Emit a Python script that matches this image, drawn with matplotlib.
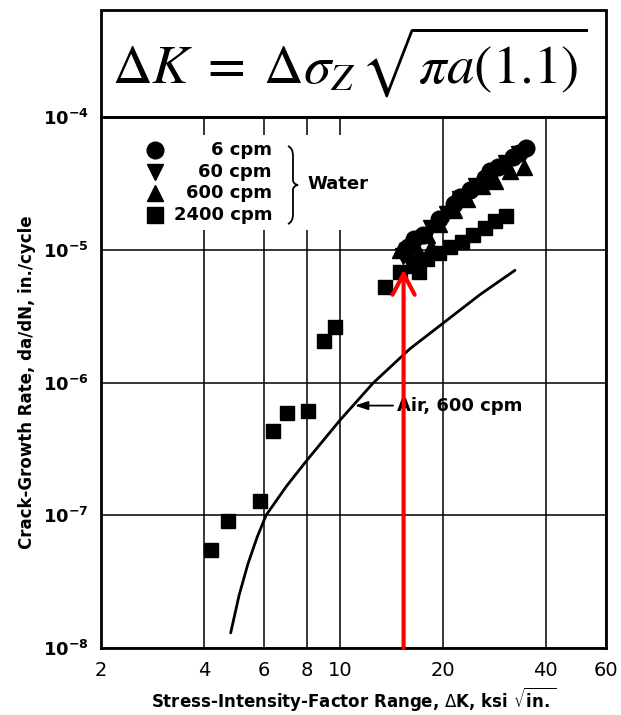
import matplotlib
matplotlib.use("Agg")
import matplotlib.pyplot as plt
from matplotlib.patches import Rectangle, PathPatch
from matplotlib.path import Path

# stress-intensity range (ksi sqrt(in)) vs crack-growth rate (in./cycle)
dk_6cpm = [15.8, 16.5, 17.5, 19.5, 21.5, 22.5, 24, 26.5, 27.5, 29, 32, 33.5, 35]
rate_6cpm = [1.05e-5, 1.2e-5, 1.3e-5, 1.7e-5, 2.2e-5, 2.5e-5, 2.8e-5, 3.5e-5, 3.9e-5,
             4.2e-5, 5.0e-5, 5.4e-5, 5.8e-5]

dk_60cpm = [15.3, 16, 16.8, 18.5, 20.5, 22.5, 25, 27.5, 30.5, 33.5]
rate_60cpm = [9e-6, 8e-6, 1.15e-5, 1.45e-5, 1.85e-5, 2.4e-5, 3.0e-5, 3.6e-5, 4.5e-5, 5.3e-5]

dk_600cpm = [15, 16.3, 17, 18, 18.5, 19.5, 21.5, 23.5, 26, 28.5, 31.5, 34.5]
rate_600cpm = [1.0e-5, 1.1e-5, 9.5e-6, 1.3e-5, 1.05e-5, 1.55e-5, 2.0e-5, 2.4e-5, 3.0e-5,
               3.3e-5, 3.9e-5, 4.2e-5]

dk_2400cpm = [4.19, 4.69, 5.85, 6.38, 7.0, 8.09, 8.98, 9.7, 13.5, 15.0, 16.5, 17.0,
              18, 19.5, 21, 22.8, 24.5, 26.5, 28.5, 30.5]
rate_2400cpm = [5.5e-8, 9e-8, 1.27e-7, 4.3e-7, 5.9e-7, 6.1e-7, 2.04e-6, 2.6e-6, 5.2e-6, 6.8e-6,
                7.5e-6, 6.8e-6, 8.5e-6, 9.5e-6, 1.05e-5, 1.15e-5, 1.3e-5, 1.45e-5, 1.65e-5, 1.8e-5]

# air, 600 cpm curve
dk_air = [4.79, 5.07, 5.38, 5.72, 6.08, 6.98, 8.01, 10, 12.5, 16, 20.6, 25.7, 32.5]
rate_air = [1.3e-8, 2.5e-8, 4.3e-8, 6.8e-8, 1e-7, 1.66e-7, 2.6e-7, 5.2e-7, 9.9e-7, 1.79e-6,
            2.96e-6, 4.6e-6, 7.0e-6]

# red marker at the threshold
dk_red = 15.35
rate_red = 7.1e-6

x_ticks = [2, 4, 6, 8, 10, 20, 40, 60]
x_tick_labels = ["2", "4", "6", "8", "10", "20", "40", "60"]
y_ticks = [1e-8, 1e-7, 1e-6, 1e-5, 1e-4]
y_tick_labels = [r"$\mathbf{10^{-8}}$", r"$\mathbf{10^{-7}}$", r"$\mathbf{10^{-6}}$",
                 r"$\mathbf{10^{-5}}$", r"$\mathbf{10^{-4}}$"]
legend_labels = ["6 cpm", "60 cpm", "600 cpm", "2400 cpm"]
legend_markers = ["o", "v", "^", "s"]

plt.rcParams["font.family"] = ["DejaVu Sans"]
plt.rcParams["mathtext.fontset"] = "dejavusans"

W, H = 621, 715
fig = plt.figure(figsize=(W / 100, H / 100), dpi=100)
L, R, T, B = 101, 606, 117, 648
ax = fig.add_axes([L / W, 1 - B / H, (R - L) / W, (B - T) / H])

def ax_frac(px, py):
    # pixel position in the picture -> axes fraction (for legend decorations)
    return (px - L) / (R - L), (B - py) / (B - T)

ax.set_xscale("log")
ax.set_yscale("log")
ax.set_xlim(2, 60)
ax.set_ylim(1e-8, 1e-4)
ax.set_xticks(x_ticks)
ax.set_xticklabels(x_tick_labels, fontsize=14)
ax.set_yticks(y_ticks)
ax.set_yticklabels(y_tick_labels, fontsize=13)
ax.minorticks_off()
ax.tick_params(axis="both", length=0)
ax.tick_params(axis="x", pad=9)
ax.tick_params(axis="y", pad=9)
ax.set_axisbelow(True)
ax.grid(True, color="black", lw=1.1)
for sp in ax.spines.values():
    sp.set_linewidth(2)

ax.set_xlabel(r"Stress-Intensity-Factor Range, $\Delta$K, ksi $\sqrt{\mathbf{in.}}$",
              fontsize=12, fontweight="bold", labelpad=4)
ax.set_ylabel("Crack-Growth Rate, da/dN, in./cycle", fontsize=12, fontweight="bold", labelpad=5)

# data
ax.plot(dk_air, rate_air, color="black", lw=2.0, zorder=3, solid_capstyle="round",
        solid_joinstyle="round")
ax.plot(dk_2400cpm, rate_2400cpm, "s", color="black", ms=10.5, zorder=4)
ax.plot(dk_600cpm, rate_600cpm, "^", color="black", ms=12, zorder=4)
ax.plot(dk_60cpm, rate_60cpm, "v", color="black", ms=12, zorder=4)
ax.plot(dk_6cpm, rate_6cpm, "o", color="black", ms=12, zorder=4)

ax.annotate("Air, 600 cpm", xy=(11.05, 6.7e-7), xytext=(14.7, 6.7e-7),
            fontsize=13, fontweight="bold", va="center", ha="left",
            arrowprops=dict(arrowstyle="-|>,head_length=0.6,head_width=0.2", color="black",
                            lw=1.3, shrinkA=1, shrinkB=0))

ax.annotate("", xy=(dk_red, rate_red), xytext=(dk_red, 1e-8),
            arrowprops=dict(arrowstyle="->,head_length=1.5,head_width=0.8", color="red",
                            lw=3, shrinkA=0, shrinkB=0), zorder=6)

# legend block (white patch over the grid)
x0, y0 = ax_frac(135, 230)
x1, y1 = ax_frac(365, 135)
ax.add_patch(Rectangle((x0, y0), x1 - x0, y1 - y0, transform=ax.transAxes,
                       facecolor="white", edgecolor="none", zorder=1))
rows = [150, 172, 193, 215]
for lab, mk, py in zip(legend_labels, legend_markers, rows):
    mx, my = ax_frac(155, py)
    ax.plot([mx], [my], mk, color="black", ms=12, transform=ax.transAxes, zorder=5)
    tx, ty = ax_frac(272, py)
    ax.text(tx, ty, lab, transform=ax.transAxes, ha="right", va="center",
            fontsize=13, fontweight="bold", zorder=5)

brace_px = [(288, 146), (293, 148), (293, 156), (293, 180), (293, 184), (298, 185),
            (293, 186), (293, 190), (293, 214), (293, 222), (288, 224)]
brace_codes = [Path.MOVETO, Path.CURVE3, Path.CURVE3, Path.LINETO, Path.CURVE3, Path.CURVE3,
               Path.CURVE3, Path.CURVE3, Path.LINETO, Path.CURVE3, Path.CURVE3]
brace = Path([ax_frac(px, py) for px, py in brace_px], brace_codes)
ax.add_patch(PathPatch(brace, transform=ax.transAxes, facecolor="none",
                       edgecolor="black", lw=1.3, zorder=5))
wx, wy = ax_frac(307, 184)
ax.text(wx, wy, "Water", transform=ax.transAxes, ha="left", va="center",
        fontsize=13, fontweight="bold", zorder=5)

# formula box above the plot
fig.add_artist(Rectangle((L / W, 1 - T / H), (R - L) / W, (T - 10) / H,
                         transform=fig.transFigure, fill=False, lw=2, edgecolor="black"))
fig.text(350 / W, 1 - 62 / H, r"$\Delta K\; =\; \Delta\sigma_{Z}\,\sqrt{\pi a(1.1)}$",
         fontsize=39.5, ha="center", va="center", math_fontfamily="stix")

fig.savefig("out.png", dpi=100, facecolor="white")
